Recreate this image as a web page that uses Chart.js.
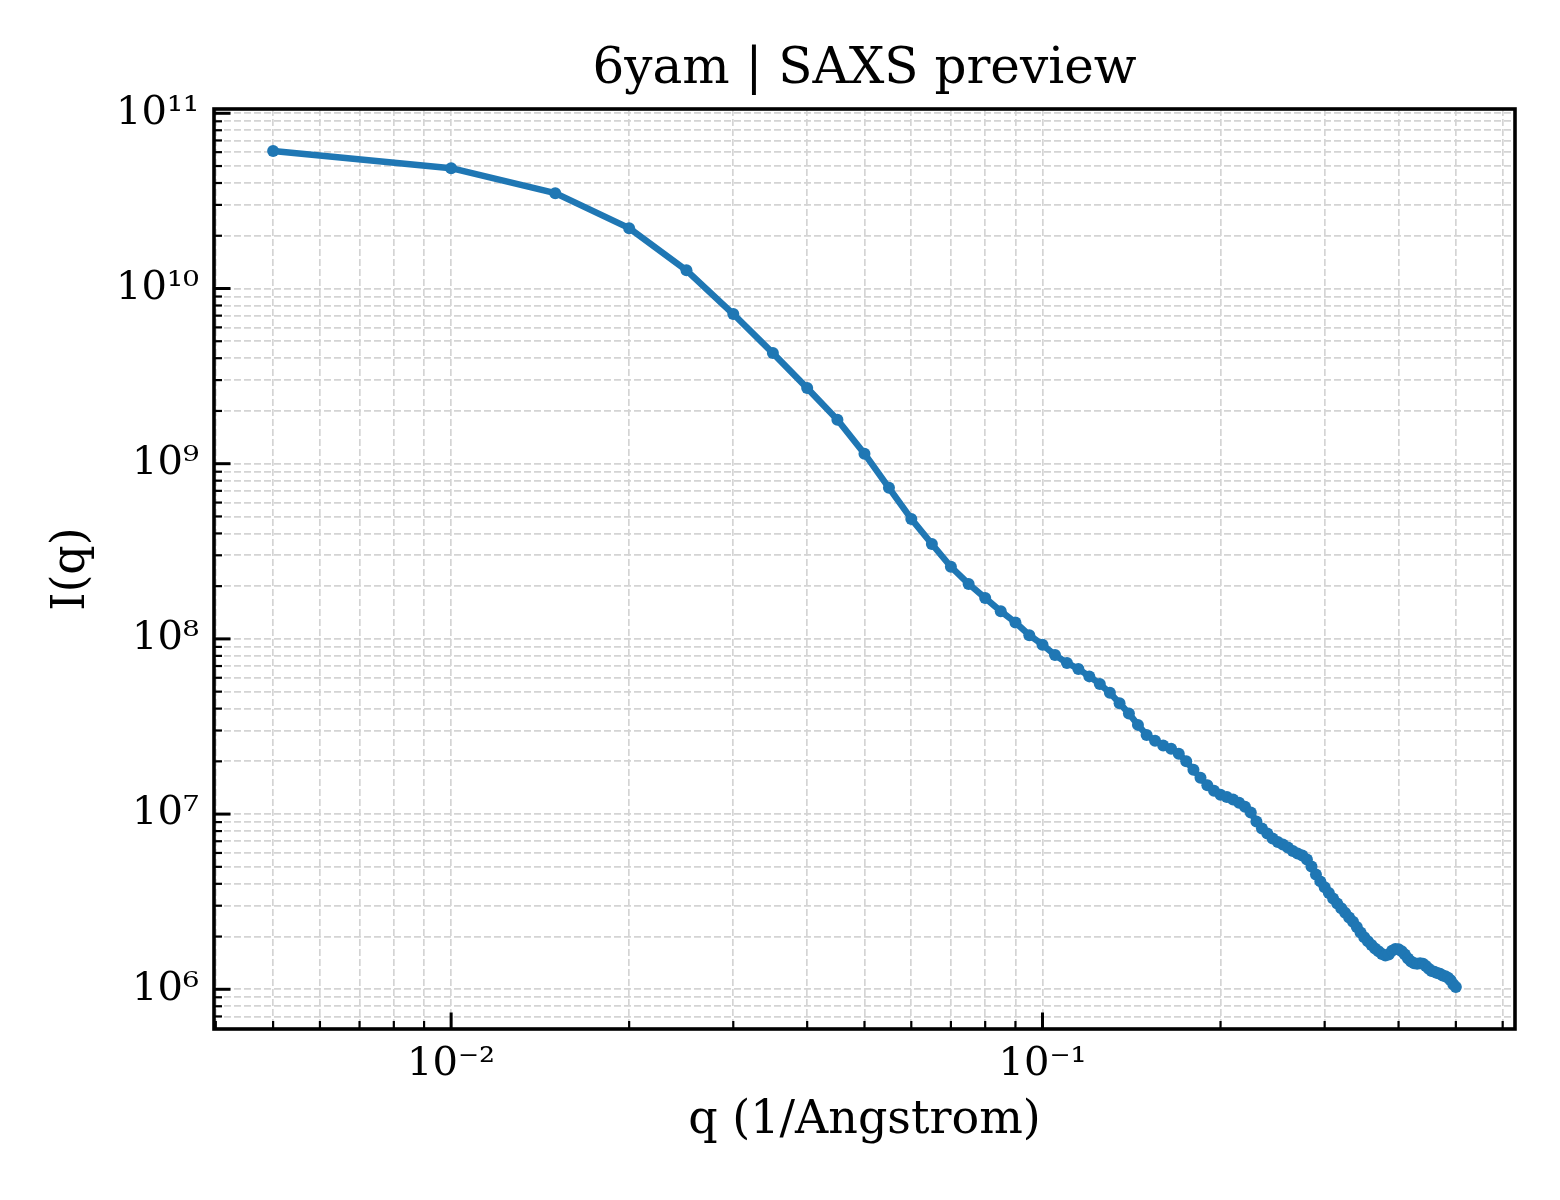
<!DOCTYPE html>
<html><head><meta charset="utf-8">
<script src="https://cdn.jsdelivr.net/npm/chart.js@4.4.1/dist/chart.umd.min.js"></script>
<style>html,body{margin:0;padding:0;background:#fff;}#wrap{width:1560px;height:1200px;}</style>
</head><body><div id="wrap"><canvas id="c" width="1560" height="1200"></canvas></div>
<script>
const qValues = [
  0.005,0.010,0.015,0.020,0.025,0.030,0.035,0.040,0.045,0.050,
  0.055,0.060,0.065,0.070,0.075,0.080,0.085,0.090,0.095,0.100,
  0.105,0.110,0.115,0.120,0.125,0.130,0.135,0.140,0.145,0.150,
  0.155,0.160,0.165,0.170,0.175,0.180,0.185,0.190,0.195,0.200,
  0.205,0.210,0.215,0.220,0.225,0.230,0.235,0.240,0.245,0.250,
  0.255,0.260,0.265,0.270,0.275,0.280,0.285,0.290,0.295,0.300,
  0.305,0.310,0.315,0.320,0.325,0.330,0.335,0.340,0.345,0.350,
  0.355,0.360,0.365,0.370,0.375,0.380,0.385,0.390,0.395,0.400,
  0.405,0.410,0.415,0.420,0.425,0.430,0.435,0.440,0.445,0.450,
  0.455,0.460,0.465,0.470,0.475,0.480,0.485,0.490,0.495,0.500
];
const intensity = [
  6.1e10,4.86e10,3.50e10,2.21e10,1.27e10,7.15e9,4.28e9,2.70e9,1.78e9,1.14e9,
  7.28e8,4.84e8,3.48e8,2.58e8,2.06e8,1.71e8,1.44e8,1.24e8,1.05e8,9.27e7,
  8.09e7,7.29e7,6.74e7,6.11e7,5.53e7,4.92e7,4.29e7,3.75e7,3.23e7,2.83e7,
  2.62e7,2.46e7,2.36e7,2.21e7,2.00e7,1.79e7,1.61e7,1.46e7,1.36e7,1.29e7,
  1.25e7,1.21e7,1.16e7,1.10e7,1.02e7,9.07e6,8.28e6,7.75e6,7.26e6,6.93e6,
  6.71e6,6.45e6,6.16e6,5.96e6,5.81e6,5.51e6,5.02e6,4.52e6,4.13e6,3.82e6,
  3.55e6,3.30e6,3.09e6,2.90e6,2.73e6,2.57e6,2.43e6,2.27e6,2.11e6,1.98e6,
  1.88e6,1.79e6,1.71e6,1.65e6,1.59e6,1.56e6,1.58e6,1.66e6,1.70e6,1.69e6,
  1.65e6,1.58e6,1.50e6,1.44e6,1.41e6,1.40e6,1.41e6,1.40e6,1.36e6,1.31e6,
  1.27e6,1.26e6,1.24e6,1.225e6,1.20e6,1.186e6,1.163e6,1.125e6,1.068e6,1.03e6
];
const xMajorTicks = [0.01, 0.1];
const xTickLabels = ['10\u207B\u00B2', '10\u207B\u00B9'];
const xMinorTicks = [0.004,0.005,0.006,0.007,0.008,0.009,
  0.02,0.03,0.04,0.05,0.06,0.07,0.08,0.09,
  0.2,0.3,0.4,0.5,0.6];
const yMajorTicks = [1e6, 1e7, 1e8, 1e9, 1e10, 1e11];
const yTickLabels = ['10\u2076','10\u2077','10\u2078','10\u2079','10\u00B9\u2070','10\u00B9\u00B9'];
const yMinorTicks = [7e5,8e5,9e5,
  2e6,3e6,4e6,5e6,6e6,7e6,8e6,9e6,
  2e7,3e7,4e7,5e7,6e7,7e7,8e7,9e7,
  2e8,3e8,4e8,5e8,6e8,7e8,8e8,9e8,
  2e9,3e9,4e9,5e9,6e9,7e9,8e9,9e9,
  2e10,3e10,4e10,5e10,6e10,7e10,8e10,9e10];
const xLimits = [0.003972, 0.6295];
const yLimits = [5.934e5, 1.058e11];
const titleText = '6yam | SAXS preview';
const xTitle = 'q (1/Angstrom)';
const yTitle = 'I(q)';

const FONT = "'DejaVu Serif', 'Liberation Serif', serif";
const near = (a, b) => Math.abs(a - b) <= Math.abs(b) * 1e-6;
function makeTicks(majors, minors) {
  return majors.map(v => ({value: v, major: true}))
    .concat(minors.map(v => ({value: v, major: false})))
    .sort((a, b) => a.value - b.value);
}
function labelFor(value, majors, labels) {
  const i = majors.findIndex(m => near(value, m));
  return i >= 0 ? labels[i] : '';
}

const frameAndTicks = {
  id: 'frameAndTicks',
  afterDraw(chart) {
    const {ctx, chartArea: a, scales: {x, y}} = chart;
    ctx.save();
    ctx.strokeStyle = '#000';
    ctx.lineCap = 'butt';
    y.ticks.forEach(t => {
      const p = y.getPixelForValue(t.value);
      if (p < a.top - 0.5 || p > a.bottom + 0.5) return;
      ctx.lineWidth = t.major ? 3 : 2.2;
      ctx.beginPath();
      ctx.moveTo(a.left, p);
      ctx.lineTo(a.left + (t.major ? 16.5 : 8), p);
      ctx.stroke();
    });
    x.ticks.forEach(t => {
      const p = x.getPixelForValue(t.value);
      if (p < a.left - 0.5 || p > a.right + 0.5) return;
      ctx.lineWidth = t.major ? 3 : 2.2;
      ctx.beginPath();
      ctx.moveTo(p, a.bottom);
      ctx.lineTo(p, a.bottom - (t.major ? 16.5 : 8));
      ctx.stroke();
    });
    ctx.lineWidth = 3.6;
    ctx.lineJoin = 'miter';
    ctx.strokeRect(a.left, a.top, a.right - a.left, a.bottom - a.top);
    ctx.restore();
  }
};

const gridOpts = {color: '#d4d4d4', lineWidth: 1.7, drawTicks: false};
const borderOpts = {display: false, dash: [7, 3]};

new Chart(document.getElementById('c'), {
  type: 'line',
  data: {
    datasets: [{
      data: qValues.map((q, i) => ({x: q, y: intensity[i]})),
      borderColor: '#1f77b4',
      backgroundColor: '#1f77b4',
      borderWidth: 6.5,
      pointRadius: 6,
      pointHoverRadius: 6,
      pointBorderWidth: 0,
      pointBackgroundColor: '#1f77b4',
      borderJoinStyle: 'round',
      borderCapStyle: 'round',
      tension: 0,
      fill: false
    }]
  },
  options: {
    responsive: false,
    devicePixelRatio: 1,
    animation: false,
    events: [],
    layout: {padding: {left: 0, right: 45, top: 0, bottom: 0}},
    plugins: {
      legend: {display: false},
      tooltip: {enabled: false},
      title: {
        display: true,
        text: titleText,
        fullSize: false,
        color: '#000',
        font: {family: FONT, size: 50, weight: 'normal', lineHeight: 1.2},
        padding: {top: 40, bottom: 9}
      }
    },
    scales: {
      x: {
        type: 'logarithmic',
        min: xLimits[0], max: xLimits[1],
        bounds: 'data',
        afterBuildTicks: s => { s.ticks = makeTicks(xMajorTicks, xMinorTicks); },
        afterFit: s => { s.height = 171; },
        grid: gridOpts,
        border: borderOpts,
        ticks: {
          autoSkip: false, maxRotation: 0, minRotation: 0, padding: 12,
          color: '#000',
          font: {family: FONT, size: 40, lineHeight: 1.2},
          callback: v => labelFor(v, xMajorTicks, xTickLabels)
        },
        title: {
          display: true, text: xTitle, color: '#000',
          font: {family: FONT, size: 46, lineHeight: 1.2},
          padding: {top: 0, bottom: 51}
        }
      },
      y: {
        type: 'logarithmic',
        min: yLimits[0], max: yLimits[1],
        bounds: 'data',
        afterBuildTicks: s => { s.ticks = makeTicks(yMajorTicks, yMinorTicks); },
        afterFit: s => { s.width = 214; },
        grid: gridOpts,
        border: borderOpts,
        ticks: {
          autoSkip: false, padding: 15,
          color: '#000',
          font: {family: FONT, size: 40, lineHeight: 1.2},
          callback: v => labelFor(v, yMajorTicks, yTickLabels)
        },
        title: {
          display: true, text: yTitle, color: '#000',
          font: {family: FONT, size: 46, lineHeight: 1.2},
          padding: {top: 44, bottom: 0}
        }
      }
    }
  },
  plugins: [frameAndTicks]
});
</script></body></html>
